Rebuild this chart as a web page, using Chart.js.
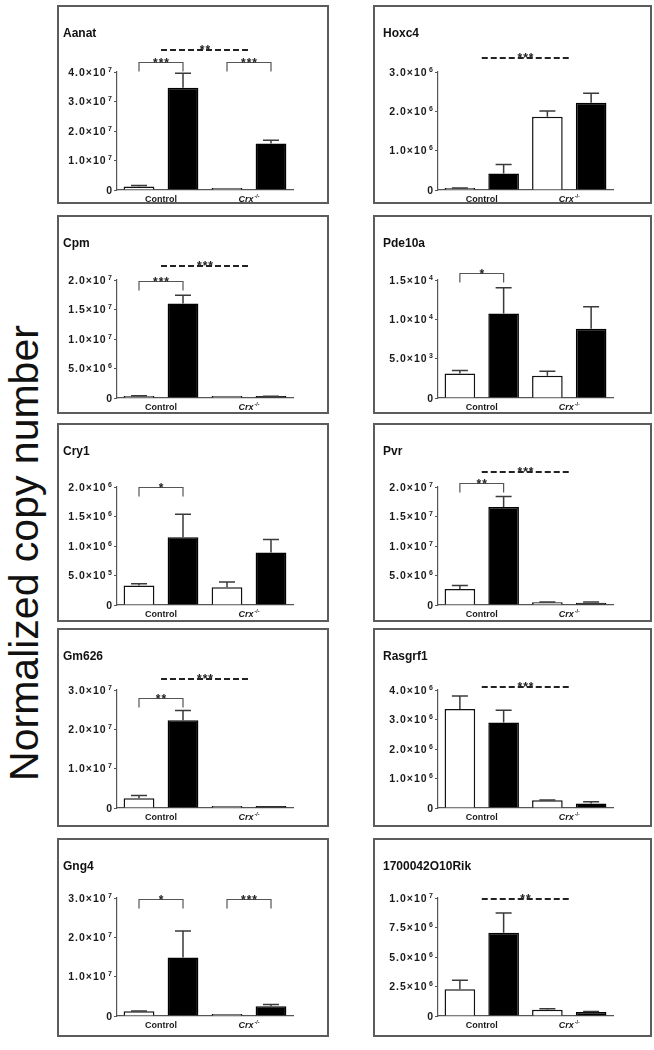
<!DOCTYPE html>
<html>
<head>
<meta charset="utf-8">
<title>Normalized copy number</title>
<script src="https://cdn.jsdelivr.net/npm/chart.js@4.4.1/dist/chart.umd.min.js"></script>
<style>
    html, body { margin: 0; padding: 0; background: #fff; }
    body { width: 654px; height: 1050px; position: relative; overflow: hidden; font-family: "Liberation Sans", Arial, sans-serif; }
    .y-title { position: absolute; left: 24px; top: 553px; transform: translate(-50%, -50%) rotate(-90deg); font-size: 41px; color: #111; white-space: nowrap; }
    .panel { position: absolute; box-sizing: border-box; border: 2px solid #5c5c5c; background: #fff; }
    .panel canvas { position: absolute; left: 0; top: 0; }
    .panel-title { position: absolute; top: 19px; font-weight: bold; font-size: 12px; color: #111; white-space: nowrap; }
</style>
</head>
<body>
<div class="y-title">Normalized copy number</div>

<script>
// Genes, one panel each (left to right, top to bottom)
const genes = ['Aanat', 'Hoxc4', 'Cpm', 'Pde10a', 'Cry1', 'Pvr', 'Gm626', 'Rasgrf1', 'Gng4', '1700042O10Rik'];
const groups = ['Control', 'Crx-/-'];

// Y axis range for each panel
const yMax = [4e7, 3e6, 2e7, 1.5e4, 2e6, 2e7, 3e7, 4e6, 3e7, 1e7];
const yStep = [1e7, 1e6, 5e6, 5e3, 5e5, 5e6, 1e7, 1e6, 1e7, 2.5e6];

// Open (white) bars: [Control, Crx-/-]
const openMeans = [
    [1.2e6, 5e5], [4e4, 1.86e6], [3.5e5, 2e5], [3100, 2830], [3.3e5, 3.0e5],
    [2.7e6, 4.5e5], [2.5e6, 2e5], [3.36e6, 2.6e5], [1.2e6, 4e5], [2.26e6, 5.4e5]
];
const openSem = [
    [3e5, 0], [1e4, 1.5e5], [5e4, 0], [400, 570], [3e4, 9e4],
    [6e5, 5e4], [7e5, 0], [4.4e5, 1e4], [1e5, 0], [7.6e5, 8e4]
];

// Filled (black) bars: [Control, Crx-/-]
const filledMeans = [
    [3.47e7, 1.58e7], [4.2e5, 2.22e6], [1.6e7, 2.5e5], [10750, 8800], [1.15e6, 8.9e5],
    [1.66e7, 4e5], [2.23e7, 2e5], [2.9e6, 1.5e5], [1.49e7, 2.5e6], [7.06e6, 3.4e5]
];
const filledSem = [
    [4.9e6, 1.1e6], [2.3e5, 2.4e5], [1.4e6, 5e4], [3250, 2800], [3.9e5, 2.2e5],
    [1.8e6, 1e5], [2.5e6, 0], [4.1e5, 6e4], [6.7e6, 4e5], [1.67e6, 5e4]
];

// Significance brackets inside a group (open vs filled), level in data units
const brackets = [
    [{ group: 0, label: '***', level: 4.33e7 }, { group: 1, label: '***', level: 4.33e7 }],
    [],
    [{ group: 0, label: '***', level: 1.98e7 }],
    [{ group: 0, label: '*', level: 1.59e4 }],
    [{ group: 0, label: '*', level: 2.0e6 }],
    [{ group: 0, label: '**', level: 2.07e7 }],
    [{ group: 0, label: '**', level: 2.8e7 }],
    [],
    [{ group: 0, label: '*', level: 2.98e7 }, { group: 1, label: '***', level: 2.98e7 }],
    []
];

// Dashed comparison between Control and Crx-/- groups
const dashed = [
    { label: '**', level: 4.73e7 },
    { label: '***', level: 3.36e6 },
    { label: '***', level: 2.24e7 },
    null,
    null,
    { label: '***', level: 2.25e7 },
    { label: '***', level: 3.28e7 },
    { label: '***', level: 4.1e6 },
    null,
    { label: '**', level: 0.99e7 }
];

// Panel layout
const COL_X = [57, 373];
const COL_W = [272, 279];
const ROW_Y = [5, 215, 423, 628, 838];
const PANEL_H = 199;
const BORDER = 2;
const PLOT_TOP = [72, 280, 487, 690, 898];
const PLOT_H = 118;
const AXIS_X = [117, 438];
const AXIS_END = [293, 613];
const TITLE_X = [4, 8];

const FONT = '"Liberation Sans", Arial, sans-serif';

// Split a value into mantissa text and exponent
function sciParts(v) {
    if (v === 0) return ['0', ''];
    const exp = Math.floor(Math.log10(v) + 1e-9);
    return [(v / Math.pow(10, exp)).toFixed(1) + '×10', String(exp)];
}

// Error bars, only upwards like in the original
function drawErrorBars(chart, k) {
    const ctx = chart.ctx;
    const yScale = chart.scales.y;
    const sems = [openSem[k], filledSem[k]];
    ctx.save();
    ctx.strokeStyle = '#3a3a3a';
    ctx.lineWidth = 1.5;
    chart.data.datasets.forEach((ds, d) => {
        chart.getDatasetMeta(d).data.forEach((bar, i) => {
            const sem = sems[d][i];
            if (!sem) return;
            const top = yScale.getPixelForValue(ds.data[i] + sem);
            ctx.beginPath();
            ctx.moveTo(bar.x, bar.y);
            ctx.lineTo(bar.x, top);
            ctx.moveTo(bar.x - 8, top);
            ctx.lineTo(bar.x + 8, top);
            ctx.stroke();
        });
    });
    ctx.restore();
}

// Y tick labels with superscript exponent
function drawYLabels(chart) {
    const ctx = chart.ctx;
    const yScale = chart.scales.y;
    const xr = yScale.right - 5;
    ctx.save();
    ctx.fillStyle = '#1a1a1a';
    ctx.textAlign = 'right';
    ctx.textBaseline = 'alphabetic';
    yScale.ticks.forEach((t, i) => {
        const ty = yScale.getPixelForTick(i);
        const [base, exp] = sciParts(t.value);
        let x = xr;
        if (exp) {
            ctx.font = 'bold 7px ' + FONT;
            ctx.letterSpacing = '0px';
            ctx.fillText(exp, x, ty - 0.5);
            x -= ctx.measureText(exp).width + 1.5;
        }
        ctx.font = 'bold 10.5px ' + FONT;
        ctx.letterSpacing = exp ? '1px' : '0px';
        ctx.fillText(base, x, ty + 3.8);
    });
    ctx.restore();
}

// Group labels under the x axis
function drawXLabels(chart) {
    const ctx = chart.ctx;
    const xScale = chart.scales.x;
    const y = chart.chartArea.bottom + 12;
    ctx.save();
    ctx.fillStyle = '#1a1a1a';
    ctx.textBaseline = 'alphabetic';
    ctx.textAlign = 'left';
    groups.forEach((g, i) => {
        const cx = xScale.getPixelForValue(i);
        if (g === 'Control') {
            ctx.font = 'bold 9px ' + FONT;
            const w = ctx.measureText(g).width;
            ctx.fillText(g, cx - w / 2, y);
        } else {
            ctx.font = 'italic bold 9px ' + FONT;
            const w1 = ctx.measureText('Crx').width;
            ctx.font = 'bold 5.5px ' + FONT;
            const w2 = ctx.measureText('-/-').width;
            const x0 = cx - (w1 + w2 + 1) / 2;
            ctx.font = 'italic bold 9px ' + FONT;
            ctx.fillText('Crx', x0, y);
            ctx.font = 'bold 5.5px ' + FONT;
            ctx.fillText('-/-', x0 + w1 + 1, y - 4);
        }
    });
    ctx.restore();
}

// Brackets and dashed comparisons
function drawSignificance(chart, k) {
    const ctx = chart.ctx;
    const xScale = chart.scales.x;
    const yScale = chart.scales.y;
    const openMeta = chart.getDatasetMeta(0);
    const filledMeta = chart.getDatasetMeta(1);
    ctx.save();
    ctx.textAlign = 'center';
    ctx.textBaseline = 'alphabetic';
    ctx.font = 'bold 12px ' + FONT;
    ctx.letterSpacing = '1px';

    brackets[k].forEach(b => {
        const x1 = openMeta.data[b.group].x;
        const x2 = filledMeta.data[b.group].x;
        const y = Math.round(yScale.getPixelForValue(b.level)) + 0.5;
        ctx.strokeStyle = '#555';
        ctx.lineWidth = 1.2;
        ctx.beginPath();
        ctx.moveTo(x1, y + 9);
        ctx.lineTo(x1, y);
        ctx.lineTo(x2, y);
        ctx.lineTo(x2, y + 9);
        ctx.stroke();
        ctx.fillStyle = '#222';
        ctx.fillText(b.label, (x1 + x2) / 2 + 0.5, y + 4.5);
    });

    const d = dashed[k];
    if (d) {
        const x1 = xScale.getPixelForValue(0);
        const x2 = xScale.getPixelForValue(1);
        const y = Math.round(yScale.getPixelForValue(d.level));
        ctx.strokeStyle = '#222';
        ctx.lineWidth = 2;
        ctx.setLineDash([6, 3]);
        ctx.beginPath();
        ctx.moveTo(x1, y);
        ctx.lineTo(x2, y);
        ctx.stroke();
        ctx.setLineDash([]);
        ctx.fillStyle = '#222';
        ctx.fillText(d.label, (x1 + x2) / 2 + 0.5, y + 4);
    }
    ctx.restore();
}

const panelPlugin = {
    id: 'panel',
    afterDatasetsDraw(chart, args, opts) {
        drawErrorBars(chart, opts.index);
    },
    afterDraw(chart, args, opts) {
        drawYLabels(chart);
        drawXLabels(chart);
        drawSignificance(chart, opts.index);
    }
};

// Build one panel
function buildPanel(k) {
    const col = k % 2;
    const row = Math.floor(k / 2);
    const panel = document.createElement('div');
    panel.className = 'panel';
    panel.style.left = COL_X[col] + 'px';
    panel.style.top = ROW_Y[row] + 'px';
    panel.style.width = COL_W[col] + 'px';
    panel.style.height = PANEL_H + 'px';
    document.body.appendChild(panel);

    const innerW = COL_W[col] - 2 * BORDER;
    const innerH = PANEL_H - 2 * BORDER;
    const canvas = document.createElement('canvas');
    canvas.width = innerW;
    canvas.height = innerH;
    canvas.style.width = innerW + 'px';
    canvas.style.height = innerH + 'px';
    panel.appendChild(canvas);

    const title = document.createElement('div');
    title.className = 'panel-title';
    title.style.left = TITLE_X[col] + 'px';
    title.textContent = genes[k];
    panel.appendChild(title);

    const axisW = AXIS_X[col] - COL_X[col] - BORDER;
    const padTop = PLOT_TOP[row] - ROW_Y[row] - BORDER;
    const padBottom = innerH - padTop - PLOT_H;
    const padRight = COL_X[col] + COL_W[col] - BORDER - AXIS_END[col];

    new Chart(canvas.getContext('2d'), {
        type: 'bar',
        data: {
            labels: groups,
            datasets: [
                {
                    label: 'open',
                    data: openMeans[k],
                    backgroundColor: '#ffffff',
                    borderColor: '#111111',
                    borderWidth: 1.5,
                    minBarLength: 2
                },
                {
                    label: 'filled',
                    data: filledMeans[k],
                    backgroundColor: '#000000',
                    borderColor: '#000000',
                    borderWidth: 1.5,
                    minBarLength: 2
                }
            ]
        },
        options: {
            responsive: false,
            animation: false,
            devicePixelRatio: 1,
            categoryPercentage: 1.0,
            barPercentage: 0.7,
            layout: { padding: { top: padTop, bottom: padBottom, left: 0, right: padRight } },
            plugins: {
                legend: { display: false },
                tooltip: { enabled: false },
                panel: { index: k }
            },
            scales: {
                x: {
                    grid: { display: false },
                    ticks: { display: false },
                    border: { display: true, color: '#555', width: 1.2 },
                    afterFit: s => { s.height = 0; }
                },
                y: {
                    min: 0,
                    max: yMax[k],
                    ticks: { display: false, stepSize: yStep[k] },
                    grid: { drawOnChartArea: false, tickLength: 3, color: '#555' },
                    border: { display: true, color: '#555', width: 1.2 },
                    afterFit: s => { s.width = axisW; }
                }
            }
        },
        plugins: [panelPlugin]
    });
}

genes.forEach((g, k) => buildPanel(k));
</script>
</body>
</html>
